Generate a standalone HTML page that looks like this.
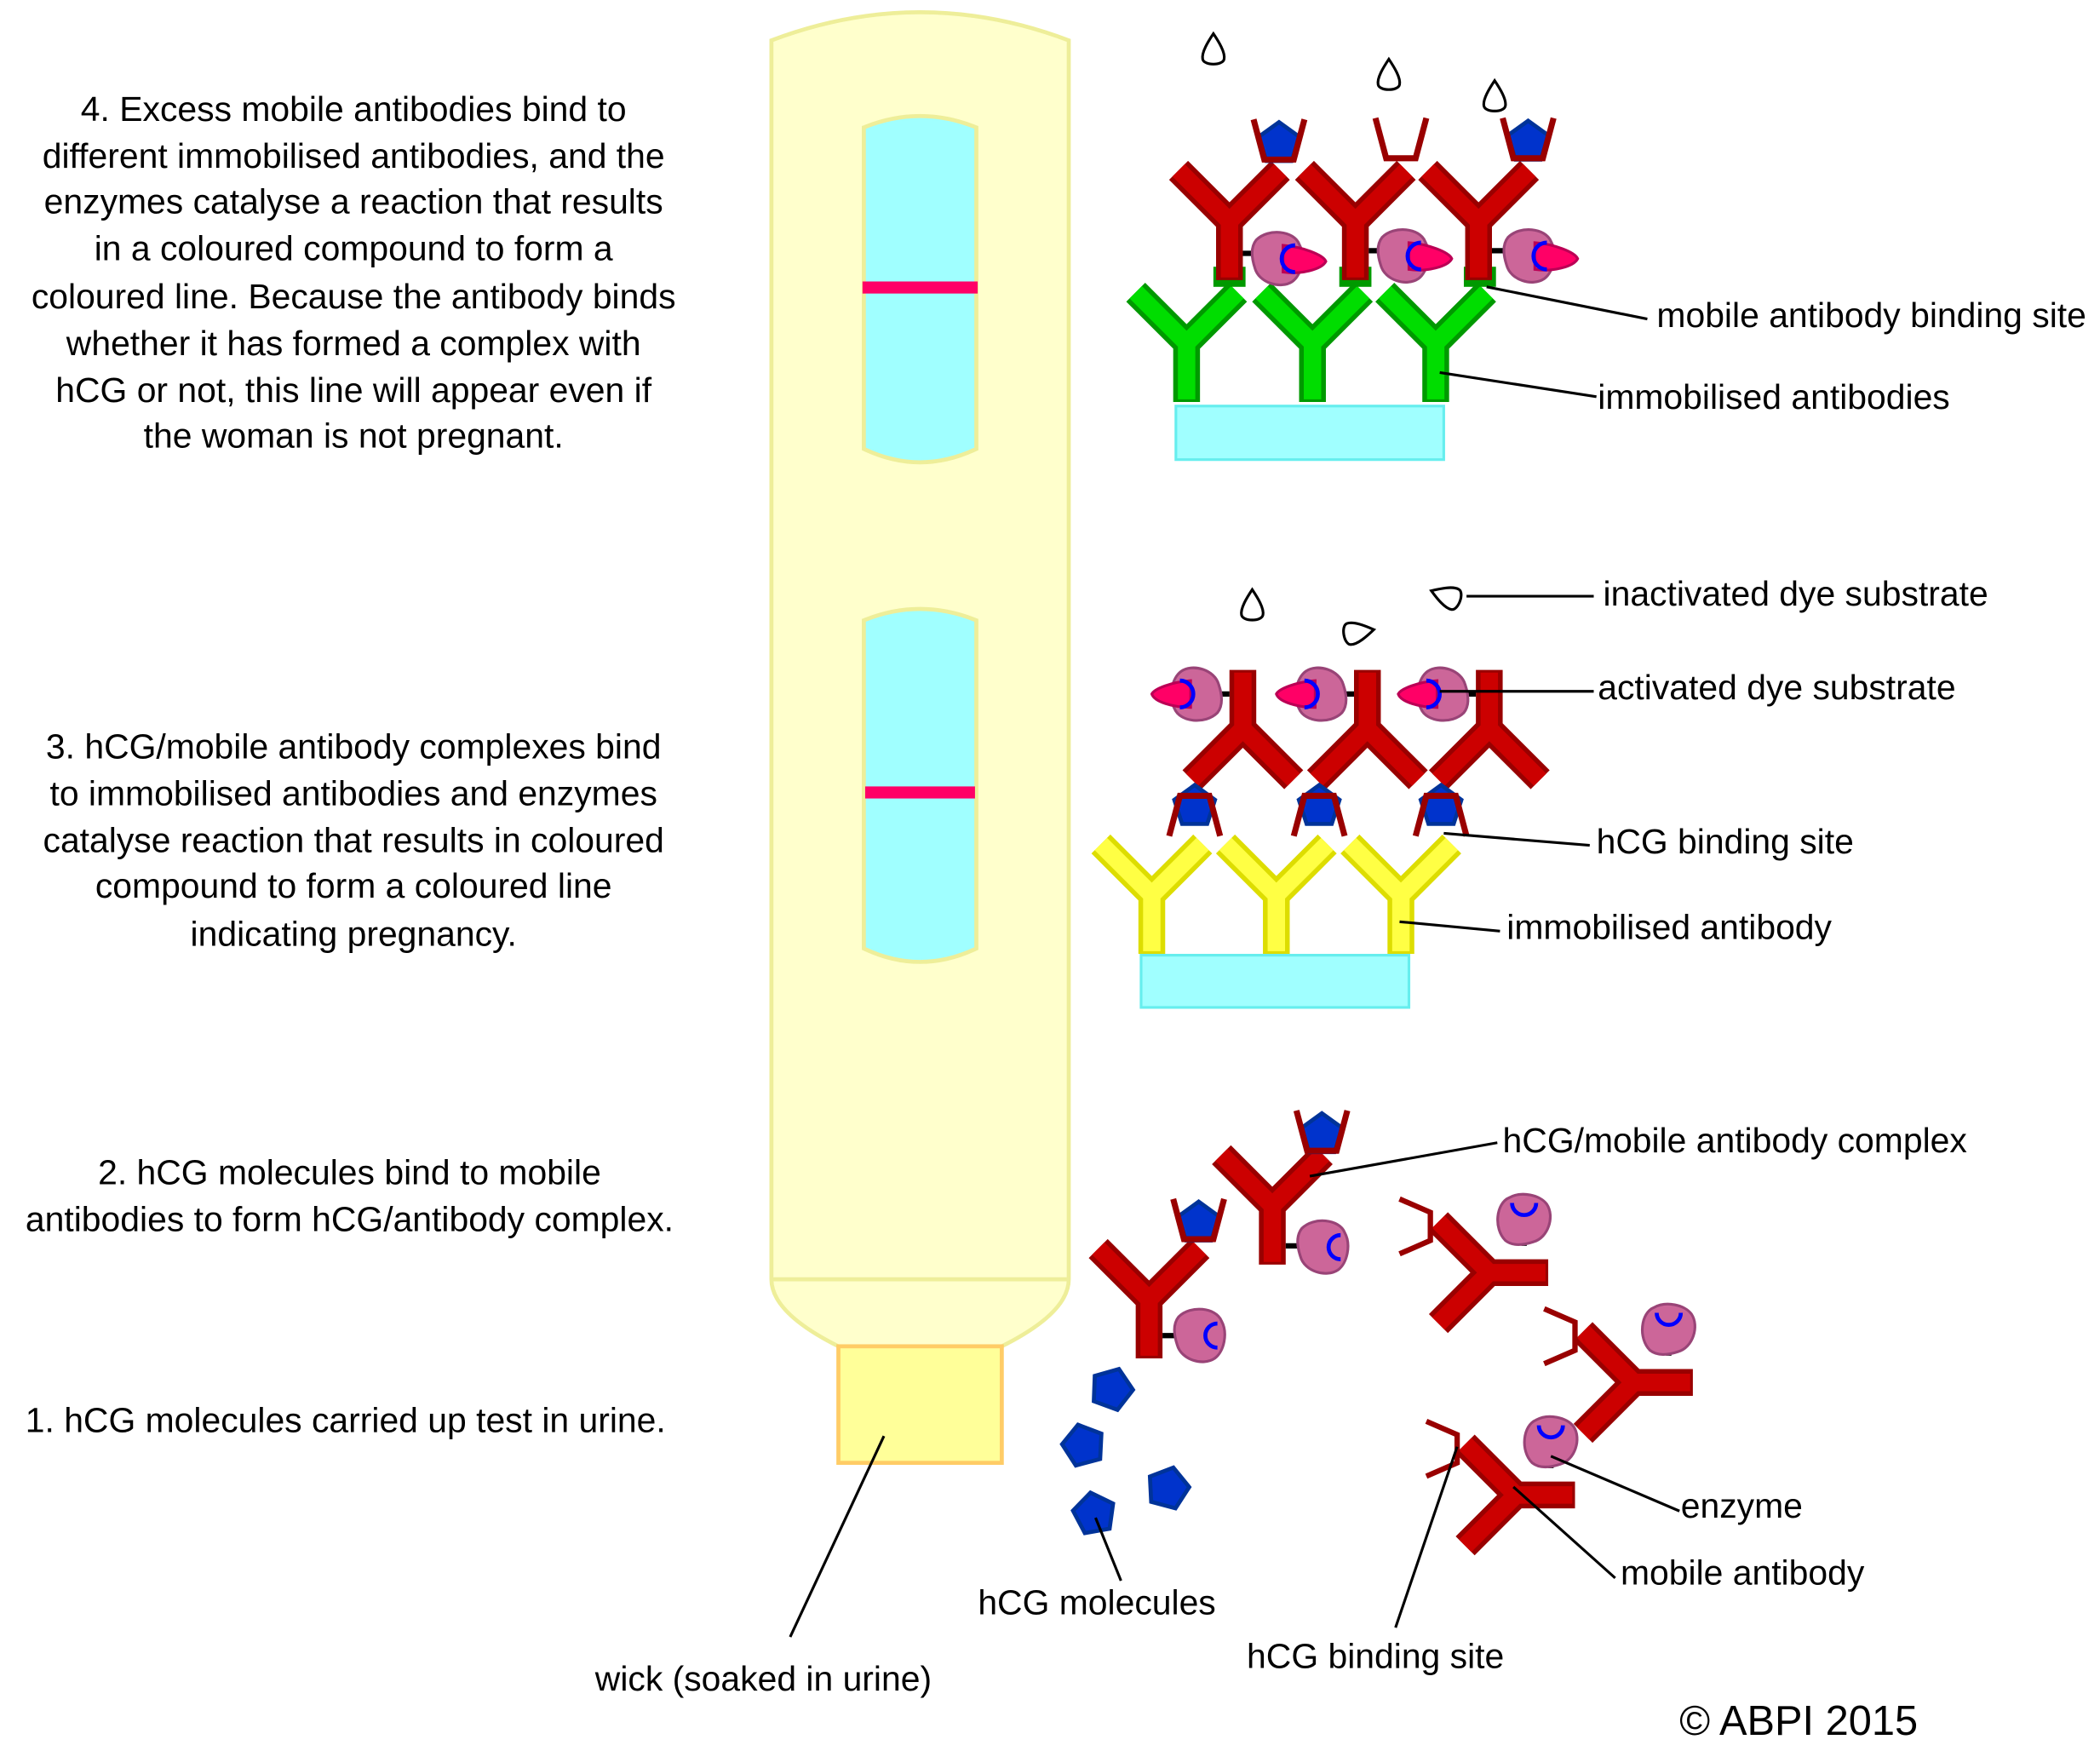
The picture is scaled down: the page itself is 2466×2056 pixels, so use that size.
<!DOCTYPE html>
<html><head><meta charset="utf-8"><style>
html,body{margin:0;padding:0;background:#fff;}
svg{display:block;}
text{font-family:"Liberation Sans",Arial,sans-serif;font-size:26px;fill:#000;}
</style></head><body>
<svg width="2466" height="2056" viewBox="0 0 1568 1307" xmlns="http://www.w3.org/2000/svg">
<defs>
  <g id="yR">
    <path d="M-38,-40 L0,-2 L38,-40 M0,-2 L0,42" fill="none" stroke="#990000" stroke-width="20" stroke-linejoin="miter"/>
    <path d="M-38,-40 L0,-2 L38,-40 M0,-2 L0,40" fill="none" stroke="#cc0000" stroke-width="13" stroke-linejoin="miter"/>
  </g>
  <g id="yG">
    <path d="M-38,-40 L0,-2 L38,-40 M0,-2 L0,42" fill="none" stroke="#009900" stroke-width="20"/>
    <path d="M-38,-40 L0,-2 L38,-40 M0,-2 L0,40" fill="none" stroke="#00dd00" stroke-width="13"/>
  </g>
  <g id="yY">
    <path d="M-38,-40 L0,-2 L38,-40 M0,-2 L0,42" fill="none" stroke="#dddd00" stroke-width="20"/>
    <path d="M-38,-40 L0,-2 L38,-40 M0,-2 L0,40" fill="none" stroke="#ffff44" stroke-width="13"/>
  </g>
  <polygon id="pent" points="0,-16 15.2,-5 9.4,13 -9.4,13 -15.2,-5" fill="#0033cc" stroke="#003399" stroke-width="3"/>
  <path id="cup" d="M-19,-20 L-11,10 L11,10 L19,-20" fill="none" stroke="#990000" stroke-width="4.5"/>
  <g id="enz">
    <path d="M-16,-14 C-7,-23 12,-21 16,-11 C21,-2 18,12 11,17 C2,23 -14,18 -17,7 C-20,-2 -20,-9 -16,-14Z" fill="#cc6699" stroke="#994477" stroke-width="2"/>
  </g>
  <path id="drop" d="M0,-12 C4,-6 9,2 8,7 C7,12 -7,12 -8,7 C-9,2 -4,-6 0,-12Z" fill="#fff" stroke="#000" stroke-width="2"/>
</defs>

<!-- strip -->
<path d="M576,30 Q687,-12 798,30 L798,955 Q798,980 748,1005 L626,1005 Q576,980 576,955Z" fill="#ffffcc" stroke="#eeee99" stroke-width="3"/>
<line x1="576" y1="955" x2="798" y2="955" stroke="#eeee99" stroke-width="3"/>
<rect x="626" y="1005" width="122" height="87" fill="#ffff99" stroke="#ffcc66" stroke-width="3"/>
<path d="M645,95 Q687,78 729,95 L729,335 Q687,355 645,335Z" fill="#a0ffff" stroke="#eeee99" stroke-width="3"/>
<rect x="644" y="210" width="86" height="9" fill="#ff0066"/>
<path d="M645,463 Q687,446 729,463 L729,708 Q687,728 645,708Z" fill="#a0ffff" stroke="#eeee99" stroke-width="3"/>
<rect x="646" y="587" width="82" height="9" fill="#ff0066"/>

<!-- Panel 4 -->
<rect x="878" y="303" width="200" height="40" fill="#a0ffff" stroke="#66eeee" stroke-width="2"/>
<use href="#yG" x="886" y="258"/><use href="#yG" x="980" y="258"/><use href="#yG" x="1072" y="258"/>
<g fill="#009900"><rect x="906" y="199" width="24" height="15"/><rect x="1000" y="199" width="24" height="15"/><rect x="1093" y="199" width="24" height="15"/></g>
<use href="#yR" x="918" y="167"/><use href="#yR" x="1012" y="167"/><use href="#yR" x="1104" y="167"/>
<use href="#pent" x="955" y="107"/><use href="#cup" x="955" y="109"/>
<use href="#cup" x="1046" y="108"/>
<use href="#pent" x="1141" y="106"/><use href="#cup" x="1141" y="108"/>
<g stroke="#000" stroke-width="4"><line x1="928" y1="189" x2="943" y2="189"/><line x1="1022" y1="187" x2="1037" y2="187"/><line x1="1114" y1="187" x2="1129" y2="187"/></g>
<g id="e4">
<use href="#enz" x="954" y="193"/>
<path d="M958,183 C972,184 988,190 990,195 C987,201 971,205 958,203Z" fill="#ff0066" stroke="#bb0055" stroke-width="2"/>
<path d="M967,183 A10,10 0 1 0 967,203" fill="none" stroke="#0000ff" stroke-width="3"/>
</g>
<use href="#e4" x="94" y="-2"/><use href="#e4" x="188" y="-2"/>
<use href="#drop" x="906" y="37"/><use href="#drop" x="1037" y="56"/><use href="#drop" x="1116" y="72"/>

<!-- Panel 3 -->
<rect x="852" y="713" width="200" height="39" fill="#a0ffff" stroke="#66eeee" stroke-width="2"/>
<use href="#yY" x="860" y="670"/><use href="#yY" x="953" y="670"/><use href="#yY" x="1046" y="670"/>
<use href="#yR" x="928" y="542" transform="rotate(180 928 542)"/>
<use href="#yR" x="1021" y="542" transform="rotate(180 1021 542)"/>
<use href="#yR" x="1112" y="542" transform="rotate(180 1112 542)"/>
<use href="#pent" x="892" y="602"/><use href="#cup" x="892" y="600" transform="rotate(180 892 602)"/>
<use href="#pent" x="985" y="602"/><use href="#cup" x="985" y="600" transform="rotate(180 985 602)"/>
<use href="#pent" x="1076" y="602"/><use href="#cup" x="1076" y="600" transform="rotate(180 1076 602)"/>
<g stroke="#000" stroke-width="4"><line x1="905" y1="518" x2="918" y2="518"/><line x1="998" y1="518" x2="1011" y2="518"/><line x1="1089" y1="518" x2="1102" y2="518"/></g>
<g id="e3">
<use href="#enz" x="893" y="518" transform="rotate(180 893 518)"/>
<path d="M889,508 C875,509 862,514 860,518 C862,524 876,528 889,528Z" fill="#ff0066" stroke="#bb0055" stroke-width="2"/>
<path d="M881,508 A10,10 0 1 1 881,528" fill="none" stroke="#0000ff" stroke-width="3"/>
</g>
<use href="#e3" x="93" y="0"/><use href="#e3" x="184" y="0"/>
<use href="#drop" x="935" y="452"/>
<use href="#drop" x="1014" y="472" transform="rotate(80 1014 472)"/>
<use href="#drop" x="1080" y="445" transform="rotate(-70 1080 445)"/>

<!-- Panel 2 -->
<use href="#yR" x="858" y="972"/>
<use href="#pent" x="895" y="913"/><use href="#cup" x="895" y="915"/>
<line x1="868" y1="997" x2="882" y2="997" stroke="#000" stroke-width="4"/>
<use href="#enz" x="896" y="997"/><path d="M909,988 A9,9 0 1 0 909,1006" fill="none" stroke="#0000ff" stroke-width="3"/>
<use href="#yR" x="950" y="902"/>
<use href="#pent" x="987" y="847"/><use href="#cup" x="987" y="849"/>
<line x1="960" y1="930" x2="974" y2="930" stroke="#000" stroke-width="4"/>
<use href="#enz" x="988" y="931"/><path d="M1001,922 A9,9 0 1 0 1001,940" fill="none" stroke="#0000ff" stroke-width="3"/>

<g id="rot1">
<use href="#yR" x="1100" y="950" transform="rotate(-90 1100 950) translate(0,14)"/>
<path d="M1045,895 L1068,905 L1068,926 L1045,936" fill="none" stroke="#990000" stroke-width="4"/>
<line x1="1138" y1="930" x2="1138" y2="918" stroke="#000" stroke-width="4"/>
<use href="#enz" x="1138" y="910" transform="rotate(-90 1138 910)"/>
<path d="M1129,898 A9,9 0 0 0 1147,898" fill="none" stroke="#0000ff" stroke-width="3"/>
</g>
<use href="#rot1" transform="translate(108,82)"/>
<use href="#rot1" transform="translate(20,166)"/>

<use href="#pent" x="830" y="1037" transform="rotate(20 830 1037)"/>
<use href="#pent" x="809" y="1079" transform="rotate(-15 809 1079)"/>
<use href="#pent" x="872" y="1111" transform="rotate(15 872 1111)"/>
<use href="#pent" x="817" y="1130" transform="rotate(-10 817 1130)"/>

<!-- leader lines -->
<g stroke="#000" stroke-width="2" fill="none">
<line x1="1110" y1="214" x2="1230" y2="238"/>
<line x1="1075" y1="278" x2="1192" y2="296"/>
<line x1="1095" y1="445" x2="1190" y2="445"/>
<line x1="1075" y1="516" x2="1190" y2="516"/>
<line x1="1078" y1="622" x2="1187" y2="631"/>
<line x1="1045" y1="688" x2="1120" y2="695"/>
<line x1="978" y1="878" x2="1118" y2="853"/>
<line x1="1158" y1="1087" x2="1254" y2="1128"/>
<line x1="1130" y1="1110" x2="1206" y2="1178"/>
<line x1="1088" y1="1080" x2="1042" y2="1215"/>
<line x1="818" y1="1133" x2="837" y2="1180"/>
<line x1="660" y1="1072" x2="590" y2="1222"/>
</g>

<!-- labels -->
<text x="1237" y="244">mobile antibody binding site</text>
<text x="1193" y="305">immobilised antibodies</text>
<text x="1197" y="452">inactivated dye substrate</text>
<text x="1193" y="522">activated dye substrate</text>
<text x="1192" y="637">hCG binding site</text>
<text x="1125" y="701">immobilised antibody</text>
<text x="1122" y="860">hCG/mobile antibody complex</text>
<text x="1255" y="1133">enzyme</text>
<text x="1210" y="1183">mobile antibody</text>
<text x="1027" y="1245" text-anchor="middle">hCG binding site</text>
<text x="819" y="1205" text-anchor="middle">hCG molecules</text>
<text x="570" y="1262" text-anchor="middle">wick (soaked in urine)</text>
<text x="1343" y="1295" text-anchor="middle" style="font-size:31px">© ABPI 2015</text>

<g text-anchor="middle">
<text x="264" y="90">4. Excess mobile antibodies bind to</text>
<text x="264" y="125">different immobilised antibodies, and the</text>
<text x="264" y="159">enzymes catalyse a reaction that results</text>
<text x="264" y="194">in a coloured compound to form a</text>
<text x="264" y="230">coloured line. Because the antibody binds</text>
<text x="264" y="265">whether it has formed a complex with</text>
<text x="264" y="300">hCG or not, this line will appear even if</text>
<text x="264" y="334">the woman is not pregnant.</text>
<text x="264" y="566">3. hCG/mobile antibody complexes bind</text>
<text x="264" y="601">to immobilised antibodies and enzymes</text>
<text x="264" y="636">catalyse reaction that results in coloured</text>
<text x="264" y="670">compound to form a coloured line</text>
<text x="264" y="706">indicating pregnancy.</text>
<text x="261" y="884">2. hCG molecules bind to mobile</text>
<text x="261" y="919">antibodies to form hCG/antibody complex.</text>
<text x="258" y="1069">1. hCG molecules carried up test in urine.</text>
</g>
</svg>
</body></html>
